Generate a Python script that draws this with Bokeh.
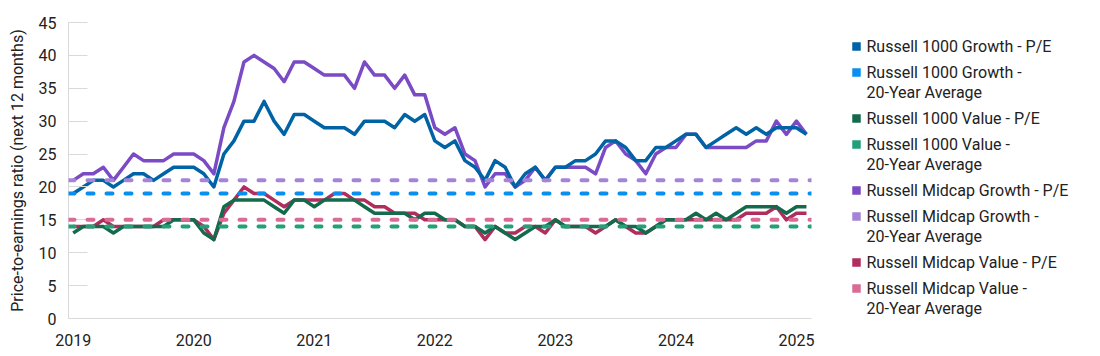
from bokeh.plotting import figure
from bokeh.models import Range1d, FixedTicker, Span
from bokeh.layouts import row
from bokeh.core.properties import value
from bokeh.embed import file_html
from bokeh.resources import INLINE

# ---------------- data (monthly, Jan 2019 .. Feb 2025) ----------------
years = ["2019", "2020", "2021", "2022", "2023", "2024", "2025"]

r1000_growth_pe = [19, 20, 21, 21, 20, 21, 22, 22, 21, 22, 23, 23,
                   23, 22, 20, 25, 27, 30, 30, 33, 30, 28, 31, 31,
                   30, 29, 29, 29, 28, 30, 30, 30, 29, 31, 30, 31,
                   27, 26, 27, 24, 23, 21, 24, 23, 20, 22, 23, 21,
                   23, 23, 24, 24, 25, 27, 27, 26, 24, 24, 26, 26,
                   27, 28, 28, 26, 27, 28, 29, 28, 29, 28, 29, 29,
                   29, 28]
midcap_growth_pe = [21, 22, 22, 23, 21, 23, 25, 24, 24, 24, 25, 25,
                    25, 24, 22, 29, 33, 39, 40, 39, 38, 36, 39, 39,
                    38, 37, 37, 37, 35, 39, 37, 37, 35, 37, 34, 34,
                    29, 28, 29, 25, 24, 20, 22, 22, 20, 21, 23, 21,
                    23, 23, 23, 23, 22, 26, 27, 25, 24, 22, 25, 26,
                    26, 28, 28, 26, 26, 26, 26, 26, 27, 27, 30, 28,
                    30, 28]
r1000_value_pe = [13, 14, 14, 14, 13, 14, 14, 14, 14, 14, 15, 15,
                  15, 13, 12, 17, 18, 18, 18, 18, 17, 16, 18, 18,
                  17, 18, 18, 18, 18, 17, 16, 16, 16, 16, 15, 16,
                  16, 15, 15, 14, 14, 13, 14, 13, 12, 13, 14, 14,
                  15, 14, 14, 14, 14, 14, 15, 14, 14, 13, 14, 15,
                  15, 15, 16, 15, 16, 15, 16, 17, 17, 17, 17, 16,
                  17, 17]
midcap_value_pe = [14, 14, 14, 15, 14, 14, 14, 14, 14, 15, 15, 15,
                   15, 14, 12, 16, 18, 20, 19, 19, 18, 17, 18, 18,
                   18, 18, 19, 19, 18, 18, 17, 17, 16, 16, 16, 15,
                   15, 15, 15, 14, 14, 12, 14, 13, 13, 14, 14, 13,
                   15, 14, 14, 14, 13, 14, 15, 14, 13, 13, 14, 15,
                   15, 15, 15, 15, 15, 15, 15, 16, 16, 16, 17, 15,
                   16, 16]

r1000_growth_avg = 19
r1000_value_avg = 14
midcap_growth_avg = 21
midcap_value_avg = 15

legend_labels = [
    ["Russell 1000 Growth - P/E"],
    ["Russell 1000 Growth -", "20-Year Average"],
    ["Russell 1000 Value - P/E"],
    ["Russell 1000 Value -", "20-Year Average"],
    ["Russell Midcap Growth - P/E"],
    ["Russell Midcap Growth -", "20-Year Average"],
    ["Russell Midcap Value - P/E"],
    ["Russell Midcap Value -", "20-Year Average"],
]

# ---------------- styles ----------------
C_R1G = "#0063A6"
C_R1G_AVG = "#0A8FF0"
C_R1V = "#136B4C"
C_R1V_AVG = "#22A07A"
C_MG = "#7B4BC6"
C_MG_AVG = "#A584D8"
C_MV = "#B02D5E"
C_MV_AVG = "#DA6A96"
legend_colors = [C_R1G, C_R1G_AVG, C_R1V, C_R1V_AVG, C_MG, C_MG_AVG, C_MV, C_MV_AVG]

FONT = "Roboto"
TXT = "#222222"
GRID = "#d9d9d9"

H = 350
TOP = 22
BOTTOM = 32
MAIN_W = 820
LEG_W = 270

months = list(range(len(r1000_growth_pe)))

p = figure(width=MAIN_W, height=H, output_backend="svg", toolbar_location=None,
           x_range=Range1d(-0.47, len(months) - 1 + 0.5), y_range=Range1d(0, 45),
           min_border_left=68, min_border_right=9, min_border_top=TOP, min_border_bottom=BOTTOM)
p.outline_line_color = None
p.xgrid.visible = False
p.ygrid.visible = False

# solid P/E lines (bottom to top)
for ys, c in [(midcap_value_pe, C_MV), (midcap_growth_pe, C_MG),
              (r1000_value_pe, C_R1V), (r1000_growth_pe, C_R1G)]:
    p.line(months, ys, line_color=c, line_width=3.5, line_join="round")

# dashed 20-year averages
for v, c in [(r1000_growth_avg, C_R1G_AVG), (r1000_value_avg, C_R1V_AVG),
             (midcap_growth_avg, C_MG_AVG), (midcap_value_avg, C_MV_AVG)]:
    p.add_layout(Span(location=v, dimension="width", line_color=c, line_width=4,
                      line_dash="6 13", line_cap="round"))

# axes
p.xaxis.ticker = FixedTicker(ticks=[12 * i for i in range(len(years))])
p.xaxis.major_label_overrides = {12 * i: y for i, y in enumerate(years)}
p.xaxis.major_tick_in = 0
p.xaxis.major_tick_out = 0
p.xaxis.minor_tick_in = 0
p.xaxis.minor_tick_out = 0
p.xaxis.axis_line_color = GRID
p.xaxis.major_label_standoff = 15
p.xaxis.major_label_text_font = FONT
p.xaxis.major_label_text_font_size = "16px"
p.xaxis.major_label_text_color = TXT

p.yaxis.ticker = FixedTicker(ticks=list(range(0, 46, 5)))
p.yaxis.major_tick_in = 19
p.yaxis.major_tick_out = 0
p.yaxis.minor_tick_in = 0
p.yaxis.minor_tick_out = 0
p.yaxis.major_tick_line_color = GRID
p.yaxis.axis_line_color = GRID
p.yaxis.major_label_standoff = 12
p.yaxis.major_label_text_font = FONT
p.yaxis.major_label_text_font_size = "16px"
p.yaxis.major_label_text_color = TXT
p.yaxis.axis_label = "Price-to-earnings ratio (next 12 months)"
p.yaxis.axis_label_text_font = FONT
p.yaxis.axis_label_text_font_size = "16px"
p.yaxis.axis_label_text_font_style = "normal"
p.yaxis.axis_label_text_color = TXT
p.yaxis.axis_label_standoff = 9

# ---------------- legend panel (frame matches main frame; page-pixel ranges) ----------------
lg = figure(width=LEG_W, height=H, output_backend="svg", toolbar_location=None,
            x_range=Range1d(MAIN_W, MAIN_W + LEG_W), y_range=Range1d(H - BOTTOM, TOP),
            min_border_left=0, min_border_right=0, min_border_top=TOP, min_border_bottom=BOTTOM,
            x_axis_location=None, y_axis_location=None)
lg.outline_line_color = None
lg.xgrid.visible = False
lg.ygrid.visible = False

sq_x, sq_y, sq_c = [], [], []
tx_x, tx_y, tx_t = [], [], []
y = 46
for lines, c in zip(legend_labels, legend_colors):
    sq_x.append(856)
    sq_y.append(y)
    sq_c.append(c)
    for k, t in enumerate(lines):
        tx_x.append(866)
        tx_y.append(y + 20 * k)
        tx_t.append(t)
    y += 26 + 20 * (len(lines) - 1)

lg.scatter(sq_x, sq_y, marker="square", size=8.5, fill_color=sq_c, line_color=None)
lg.text(tx_x, tx_y, text=tx_t, text_font=value(FONT), text_font_size="16px",
        text_baseline="middle", text_align="left", text_color=TXT)

layout = row(p, lg)
open("out.html", "w").write(file_html(layout, INLINE))
